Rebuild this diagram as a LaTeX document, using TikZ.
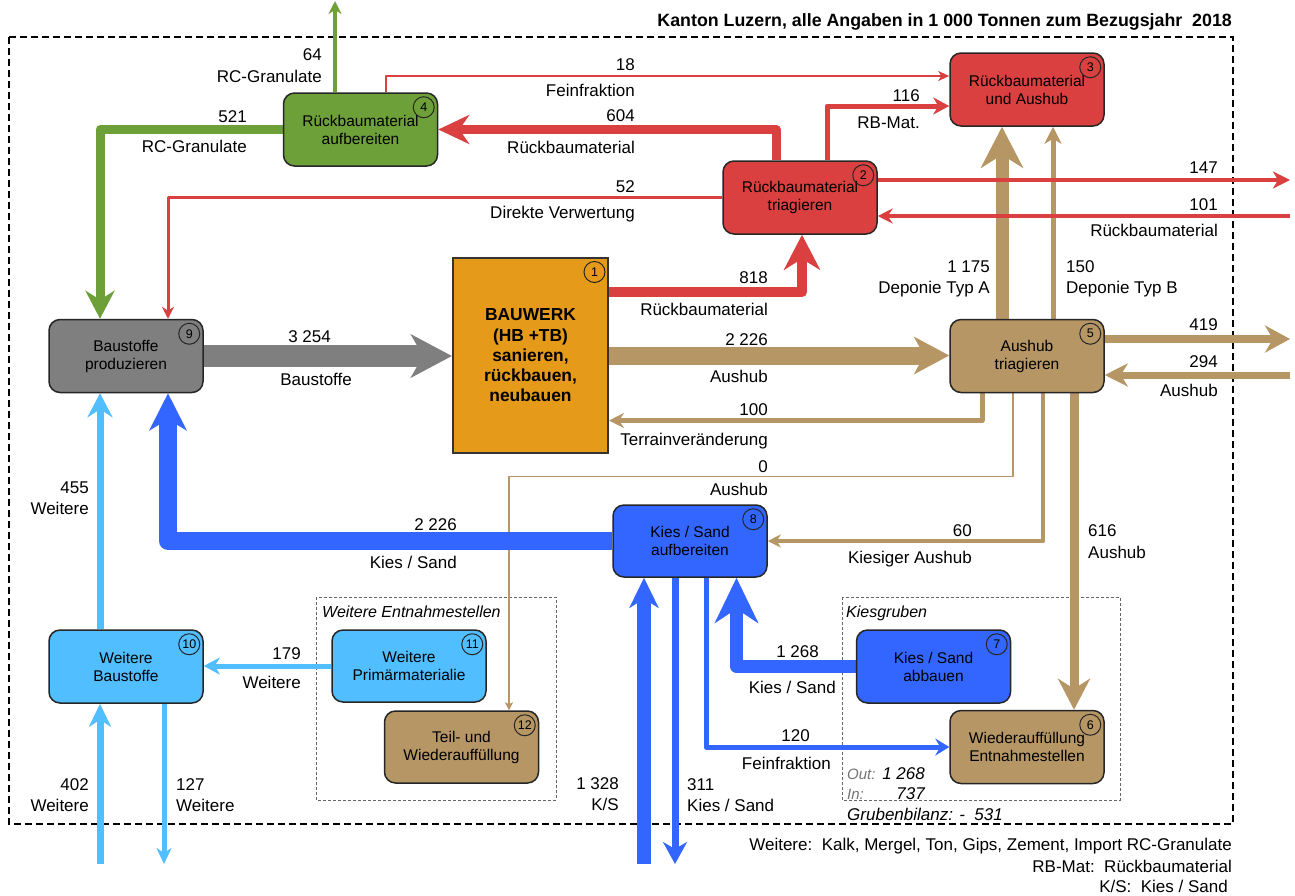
\documentclass[tikz,border=0pt]{standalone}
\usepackage{fontspec}
\setmainfont{Liberation Sans}
\usetikzlibrary{arrows.meta}
\pgfdeclarelayer{bg}
\pgfsetlayers{bg,main}
\definecolor{cGreen}{RGB}{110,160,58}
\definecolor{cRed}{RGB}{218,64,64}
\definecolor{cOrange}{RGB}{229,155,25}
\definecolor{cGray}{RGB}{127,127,127}
\definecolor{cTan}{RGB}{181,150,100}
\definecolor{cBlue}{RGB}{51,102,255}
\definecolor{cLBlue}{RGB}{80,190,255}
\begin{document}
\begin{tikzpicture}[x=1pt,y=-1pt,
  box/.style={draw=black!85, line width=1.5pt, rounded corners=11pt, minimum width=154pt, minimum height=73pt, inner sep=0pt, align=center, font=\fontsize{15.5}{18}\selectfont},
  numc/.style={circle, draw=black!85, line width=1pt, minimum size=21pt, inner sep=0pt, font=\fontsize{12.5}{13}\selectfont},
  lb/.style={inner sep=0pt, font=\fontsize{17}{20}\selectfont},
  fl/.style n args={4}{line width=#1pt, line join=round, -{Stealth[length=#2pt, width=#3pt, inset=#4pt]}},
  frame/.style={draw=black, line width=1.3pt, dash pattern=on 7pt off 4pt},
  grp/.style={draw=black!60, line width=1pt, dash pattern=on 3pt off 2pt}]
\useasboundingbox (0,0) rectangle (1295,895);

% free ends
\coordinate (o64) at (335,1);
\coordinate (o147) at (1290,180);
\coordinate (i101) at (1290,216);
\coordinate (o419) at (1290,339);
\coordinate (i294) at (1290,375);
\coordinate (i402) at (100,864);
\coordinate (o127) at (164,864);
\coordinate (i1328) at (644,864);
\coordinate (o311) at (675,864);

% nodes
\node[rectangle, draw=black!80, line width=2pt, fill=cOrange, minimum width=155pt, minimum height=195pt, inner sep=0pt, align=center, font=\fontsize{17.4}{20.25}\selectfont\bfseries] (n1) at (530.5,355.5) {BAUWERK\\(HB +TB)\\sanieren,\\rückbauen,\\neubauen};
\node[box, fill=cRed] (n2) at (800,197.5) {Rückbaumaterial\\triagieren};
\node[box, fill=cRed] (n3) at (1027,89.5) {Rückbaumaterial\\und Aushub};
\node[box, fill=cGreen] (n4) at (360.5,129.5) {Rückbaumaterial\\aufbereiten};
\node[box, fill=cTan] (n5) at (1027,356) {Aushub\\triagieren};
\node[box, fill=cTan] (n6) at (1027,747) {Wiederauffüllung\\Entnahmestellen};
\node[box, fill=cBlue] (n7) at (933.5,666.5) {Kies / Sand\\abbauen};
\node[box, fill=cBlue, minimum height=72pt] (n8) at (690,541) {Kies / Sand\\aufbereiten};
\node[box, fill=cGray] (n9) at (126,356) {Baustoffe\\produzieren};
\node[box, fill=cLBlue] (n10) at (126,666.5) {Weitere\\Baustoffe};
\node[box, fill=cLBlue, minimum height=72pt] (n11) at (409,666) {Weitere\\Primärmaterialie};
\node[box, fill=cTan, minimum height=72pt] (n12) at (461.5,747) {Teil- und\\Wiederauffüllung};

\foreach \n in {1,...,12}{
  \node[numc] (c\n) at ([xshift=-14.5pt,yshift=-15pt]n\n.north east) {\n};
}

% flows
\begin{pgfonlayer}{bg}
\draw[frame] (9,37) rectangle (1233,824);
\draw[grp] (316,597) rectangle (556,800);
\draw[grp] (842,597) rectangle (1120,800);
% green
\draw[cGreen, fl={4}{13}{13}{4}] ([xshift=-25.5pt]n4.north) -- (o64);
\draw[cGreen, fl={9}{28}{29}{9}] (n4.west) -| ([xshift=-26pt]n9.north);
% tan
\draw[cTan, fl={13}{41}{42}{13}] ([xshift=-25pt]n5.north) -- ([xshift=-25pt]n3.south);
\draw[cTan, fl={5}{17}{17}{5}] ([xshift=26pt]n5.north) -- ([xshift=26pt]n3.south);
\draw[cTan, fl={18}{35}{37}{10}] (n1.east) -- (n1.east -| n5.west);
\draw[cTan, fl={5}{15}{15}{5}] ([xshift=-45pt]n5.south) |- ([yshift=-65pt]n1.east);
\draw[cTan, fl={1.2}{8}{8}{2}] ([xshift=-14pt]n5.south) -- ++(0,83) -| ([xshift=47.5pt]n12.north);
\draw[cTan, fl={4.5}{13}{13}{4}] ([xshift=16pt]n5.south) |- (n8.east);
\draw[cTan, fl={8}{25}{27}{8}] ([yshift=17pt]n5.east) -- (o419);
\draw[cTan, fl={7}{23}{23}{7}] (i294) -- ([yshift=-19pt]n5.east);
\draw[cTan, fl={9}{31}{32}{10}] ([xshift=47pt]n5.south) -- ([xshift=47pt]n6.north);
% red
\draw[cRed, fl={2.5}{11}{10}{3}] ([xshift=25.5pt]n4.north) |- ([yshift=13.5pt]n3.west);
\draw[cRed, fl={5}{16}{17}{5}] ([xshift=27pt]n2.north) |- ([yshift=-16.5pt]n3.west);
\draw[cRed, fl={9}{31}{29}{10}] ([xshift=-24pt]n2.north) |- (n4.east);
\draw[cRed, fl={3}{12}{12}{4}] (n2.west) -| ([xshift=42pt]n9.north);
\draw[cRed, fl={10}{35}{36}{11}] ([yshift=63.5pt]n1.east) -| ([xshift=2pt]n2.south);
\draw[cRed, fl={4.5}{17}{17}{5}] ([yshift=17.5pt]n2.east) -- (o147);
\draw[cRed, fl={4.5}{15}{15}{5}] (i101) -- ([yshift=-18.5pt]n2.east);
% gray
\draw[cGray, fl={22}{41}{43}{12}] (n9.east) -- (n9.east -| n1.west);
% blue
\draw[cBlue, fl={18}{37}{37}{11}] (n8.west) -| ([xshift=42pt]n9.south);
\draw[cBlue, fl={14}{30}{29}{9}] (i1328) -- ([xshift=-46pt]n8.south);
\draw[cBlue, fl={7}{22}{24}{7}] ([xshift=-15pt]n8.south) -- (o311);
\draw[cBlue, fl={13}{45}{43}{14}] (n7.west) -| ([xshift=46.5pt]n8.south);
\draw[cBlue, fl={5}{14}{17}{5}] ([xshift=16pt]n8.south) |- (n6.west);
% light blue
\draw[cLBlue, fl={7}{24}{25}{8}] ([xshift=-26pt]n10.north) -- ([xshift=-26pt]n9.south);
\draw[cLBlue, fl={5}{16}{17}{5}] (n11.west) -- (n11.west -| n10.east);
\draw[cLBlue, fl={7}{23}{22}{7}] (i402) -- ([xshift=-26pt]n10.south);
\draw[cLBlue, fl={5}{16}{15}{5}] ([xshift=38pt]n10.south) -- (o127);
\end{pgfonlayer}

% title
\node[inner sep=0pt, anchor=base east, font=\fontsize{17.8}{20}\selectfont\bfseries] (title) at (1232,26) {Kanton Luzern, alle Angaben in 1 000 Tonnen zum Bezugsjahr\ \ 2018};

% group labels
\node[inner sep=0pt, anchor=base west, font=\fontsize{16}{18}\selectfont\itshape] (gWE) at (322,617) {Weitere Entnahmestellen};
\node[inner sep=0pt, anchor=base west, font=\fontsize{16}{18}\selectfont\itshape] (gKG) at (846,617) {Kiesgruben};

% flow labels
\node[lb, anchor=base east] (t64) at (322,60) {64};
\node[lb, anchor=base east] (t64b) at (322,82) {RC-Granulate};
\node[lb, anchor=base east] (t521) at (247,122) {521};
\node[lb, anchor=base east] (t521b) at (247,152) {RC-Granulate};
\node[lb, anchor=base east] (t18) at (635,70) {18};
\node[lb, anchor=base east] (t18b) at (635,96) {Feinfraktion};
\node[lb, anchor=base east] (t604) at (635,121) {604};
\node[lb, anchor=base east] (t604b) at (635,153) {Rückbaumaterial};
\node[lb, anchor=base east] (t52) at (635,192) {52};
\node[lb, anchor=base east] (t52b) at (635,218) {Direkte Verwertung};
\node[lb, anchor=base east] (t818) at (768,283) {818};
\node[lb, anchor=base east] (t818b) at (768,315) {Rückbaumaterial};
\node[lb, anchor=base east] (t116) at (920,101) {116};
\node[lb, anchor=base east] (t116b) at (920,128) {RB-Mat.};
\node[lb, anchor=base east] (t147) at (1218,173) {147};
\node[lb, anchor=base east] (t101) at (1218,210) {101};
\node[lb, anchor=base east] (t101b) at (1218,236) {Rückbaumaterial};
\node[lb, anchor=base east] (t1175) at (990,272) {1 175};
\node[lb, anchor=base east] (t1175b) at (990,293) {Deponie Typ A};
\node[lb, anchor=base west] (t150) at (1066,272) {150};
\node[lb, anchor=base west] (t150b) at (1066,293) {Deponie Typ B};
\node[lb, anchor=base east] (t3254) at (331,342) {3 254};
\node[lb, anchor=base east] (t3254b) at (352,385) {Baustoffe};
\node[lb, anchor=base east] (t2226) at (768,345) {2 226};
\node[lb, anchor=base east] (t2226b) at (768,382) {Aushub};
\node[lb, anchor=base east] (t100) at (768,415) {100};
\node[lb, anchor=base east] (t100b) at (768,445) {Terrainveränderung};
\node[lb, anchor=base east] (t0) at (768,472) {0};
\node[lb, anchor=base east] (t0b) at (768,495) {Aushub};
\node[lb, anchor=base east] (t419) at (1218,330) {419};
\node[lb, anchor=base east] (t294) at (1218,367) {294};
\node[lb, anchor=base east] (t294b) at (1218,396) {Aushub};
\node[lb, anchor=base east] (t60) at (972,536) {60};
\node[lb, anchor=base east] (t60b) at (972,563) {Kiesiger Aushub};
\node[lb, anchor=base west] (t616) at (1088,536) {616};
\node[lb, anchor=base west] (t616b) at (1088,558) {Aushub};
\node[lb, anchor=base east] (tks) at (457,530) {2 226};
\node[lb, anchor=base east] (tksb) at (457,568) {Kies / Sand};
\node[lb, anchor=base east] (t455) at (89,493) {455};
\node[lb, anchor=base east] (t455b) at (89,514) {Weitere};
\node[lb, anchor=base east] (t179) at (301,659) {179};
\node[lb, anchor=base east] (t179b) at (301,688) {Weitere};
\node[lb, anchor=base east] (t402) at (89,790) {402};
\node[lb, anchor=base east] (t402b) at (89,811) {Weitere};
\node[lb, anchor=base west] (t127) at (176,790) {127};
\node[lb, anchor=base west] (t127b) at (176,811) {Weitere};
\node[lb, anchor=base east] (t1328) at (619,789) {1 328};
\node[lb, anchor=base east] (t1328b) at (619,810) {K/S};
\node[lb, anchor=base west] (t311) at (687,790) {311};
\node[lb, anchor=base west] (t311b) at (687,811) {Kies / Sand};
\node[lb, anchor=base east] (t1268) at (819,657) {1 268};
\node[lb, anchor=base east] (t1268b) at (836,693) {Kies / Sand};
\node[lb, anchor=base east] (t120) at (810,741) {120};
\node[lb, anchor=base east] (t120b) at (831,769) {Feinfraktion};

% balance
\node[inner sep=0pt, anchor=base west, text=black!55, font=\fontsize{15}{17}\selectfont\itshape] (tout) at (847,779) {Out:};
\node[inner sep=0pt, anchor=base east, font=\fontsize{17}{19}\selectfont\itshape] (tout2) at (925,779) {1 268};
\node[inner sep=0pt, anchor=base west, text=black!55, font=\fontsize{15}{17}\selectfont\itshape] (tin) at (847,799) {In:};
\node[inner sep=0pt, anchor=base east, font=\fontsize{17}{19}\selectfont\itshape] (tin2) at (925,799) {737};
\node[inner sep=0pt, anchor=base west, font=\fontsize{17}{19}\selectfont\itshape] (tbil) at (847,820) {Grubenbilanz: -\ \ 531};

% legend
\node[lb, anchor=base east] (leg1) at (1232,850) {Weitere:\ \ Kalk, Mergel, Ton, Gips, Zement, Import RC-Granulate};
\node[lb, anchor=base east] (leg2) at (1232,872) {RB-Mat:\ \ Rückbaumaterial};
\node[lb, anchor=base east] (leg3) at (1228,892) {K/S:\ \ Kies / Sand};
\end{tikzpicture}
\end{document}
